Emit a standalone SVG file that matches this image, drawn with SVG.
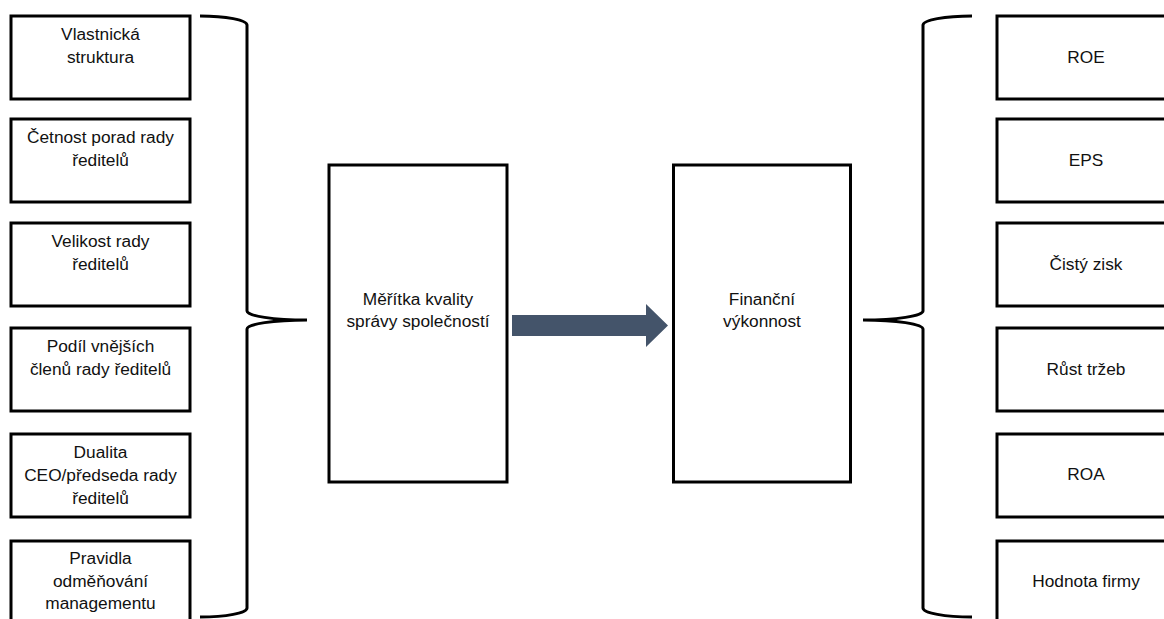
<svg xmlns="http://www.w3.org/2000/svg" width="1164" height="619" viewBox="0 0 1164 619">
  <style>
    .box { fill: #ffffff; stroke: #000000; stroke-width: 3; }
    .brace { fill: none; stroke: #000000; stroke-width: 3; }
    .lbl { font-family: "Liberation Sans", Arial, sans-serif; font-size: 17.3px; fill: #111111; text-anchor: middle; }
    .arrow { fill: #44546A; stroke: none; }
  </style>
  <rect x="0" y="0" width="1164" height="619" fill="#ffffff"/>

  <g id="connectors">
    <path class="brace" d="M200,16 A47,9 0 0 1 247,25 V311 A60,9 0 0 0 307,320 A60,9 0 0 0 247,329 V608 A47,9 0 0 1 200,617"/>
    <path class="brace" d="M972,16 A49,9 0 0 0 923,25 V311 A60,9 0 0 1 863,320 A60,9 0 0 1 923,329 V608 A49,9 0 0 0 972,617"/>
    <polygon class="arrow" points="512,315 646,315 646,304 668,325.5 646,347 646,336 512,336"/>
  </g>

  <g id="n-vlastnicka">
    <rect class="box" x="11" y="16" width="179" height="83"/>
    <text class="lbl" x="100.5" y="40">Vlastnická</text>
    <text class="lbl" x="100.5" y="63">struktura</text>
  </g>
  <g id="n-cetnost">
    <rect class="box" x="11" y="119" width="179" height="83"/>
    <text class="lbl" x="100.5" y="143">Četnost porad rady</text>
    <text class="lbl" x="100.5" y="166">ředitelů</text>
  </g>
  <g id="n-velikost">
    <rect class="box" x="11" y="223" width="179" height="83"/>
    <text class="lbl" x="100.5" y="247">Velikost rady</text>
    <text class="lbl" x="100.5" y="270">ředitelů</text>
  </g>
  <g id="n-podil">
    <rect class="box" x="11" y="328" width="179" height="83"/>
    <text class="lbl" x="100.5" y="352">Podíl vnějších</text>
    <text class="lbl" x="100.5" y="375">členů rady ředitelů</text>
  </g>
  <g id="n-dualita">
    <rect class="box" x="11" y="434" width="179" height="83"/>
    <text class="lbl" x="100.5" y="458">Dualita</text>
    <text class="lbl" x="100.5" y="481">CEO/předseda rady</text>
    <text class="lbl" x="100.5" y="504">ředitelů</text>
  </g>
  <g id="n-pravidla">
    <rect class="box" x="11" y="541" width="179" height="83"/>
    <text class="lbl" x="100.5" y="564">Pravidla</text>
    <text class="lbl" x="100.5" y="587">odměňování</text>
    <text class="lbl" x="100.5" y="609">managementu</text>
  </g>

  <g id="n-meritka">
    <rect class="box" x="329" y="165" width="178" height="317"/>
    <text class="lbl" x="418" y="305">Měřítka kvality</text>
    <text class="lbl" x="418" y="327">správy společností</text>
  </g>
  <g id="n-financni">
    <rect class="box" x="673.5" y="165" width="177" height="317"/>
    <text class="lbl" x="762" y="305">Finanční</text>
    <text class="lbl" x="762" y="327">výkonnost</text>
  </g>

  <g id="n-roe">
    <rect class="box" x="997" y="16" width="179" height="83"/>
    <text class="lbl" x="1086" y="63">ROE</text>
  </g>
  <g id="n-eps">
    <rect class="box" x="997" y="119" width="179" height="83"/>
    <text class="lbl" x="1086" y="166">EPS</text>
  </g>
  <g id="n-cisty">
    <rect class="box" x="997" y="223" width="179" height="83"/>
    <text class="lbl" x="1086" y="270">Čistý zisk</text>
  </g>
  <g id="n-rust">
    <rect class="box" x="997" y="328" width="179" height="83"/>
    <text class="lbl" x="1086" y="375">Růst tržeb</text>
  </g>
  <g id="n-roa">
    <rect class="box" x="997" y="434" width="179" height="83"/>
    <text class="lbl" x="1086" y="480">ROA</text>
  </g>
  <g id="n-hodnota">
    <rect class="box" x="997" y="541" width="179" height="83"/>
    <text class="lbl" x="1086" y="587">Hodnota firmy</text>
  </g>
</svg>
